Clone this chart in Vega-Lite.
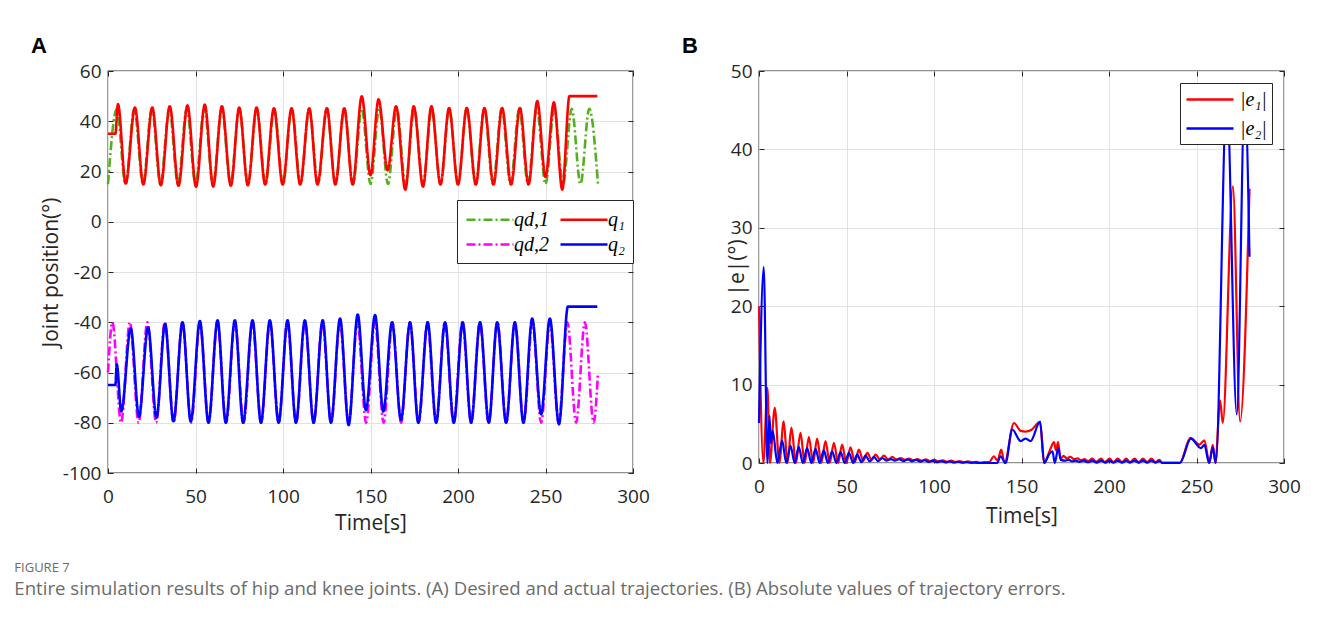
{
  "$schema": "https://vega.github.io/schema/vega-lite/v6.json",
  "background": "white",
  "padding": {"left": 14, "top": 34, "right": 10, "bottom": 20},
  "bounds": "flush",
  "spacing": 126,
  "title": {
    "text": "FIGURE 7",
    "subtitle": "Entire simulation results of hip and knee joints. (A) Desired and actual trajectories. (B) Absolute values of trajectory errors.",
    "orient": "bottom",
    "anchor": "start",
    "frame": "bounds",
    "offset": 28,
    "dx": -16,
    "font": "Open Sans",
    "fontSize": 13,
    "fontWeight": "normal",
    "color": "#6b6b6b",
    "subtitleFont": "Open Sans",
    "subtitleFontSize": 18.6,
    "subtitleColor": "#6b6b6b",
    "subtitlePadding": 5
  },
  "datasets": {
    "qd": [
      {"t":0,"v":15,"s":"qd,1"},{"t":5,"v":45,"s":"qd,1"},{"t":10,"v":15,"s":"qd,1"},{"t":15,"v":45,"s":"qd,1"},{"t":20,"v":15,"s":"qd,1"},{"t":25,"v":45,"s":"qd,1"},{"t":30,"v":15,"s":"qd,1"},{"t":35,"v":45,"s":"qd,1"},{"t":40,"v":15,"s":"qd,1"},{"t":45,"v":45,"s":"qd,1"},{"t":50,"v":15,"s":"qd,1"},{"t":55,"v":45,"s":"qd,1"},{"t":60,"v":15,"s":"qd,1"},{"t":65,"v":45,"s":"qd,1"},{"t":70,"v":15,"s":"qd,1"},{"t":75,"v":45,"s":"qd,1"},{"t":80,"v":15,"s":"qd,1"},{"t":85,"v":45,"s":"qd,1"},{"t":90,"v":15,"s":"qd,1"},{"t":95,"v":45,"s":"qd,1"},{"t":100,"v":15,"s":"qd,1"},{"t":105,"v":45,"s":"qd,1"},{"t":110,"v":15,"s":"qd,1"},{"t":115,"v":45,"s":"qd,1"},{"t":120,"v":15,"s":"qd,1"},{"t":125,"v":45,"s":"qd,1"},{"t":130,"v":15,"s":"qd,1"},{"t":135,"v":45,"s":"qd,1"},{"t":140,"v":15,"s":"qd,1"},{"t":145,"v":45,"s":"qd,1"},{"t":150,"v":15,"s":"qd,1"},{"t":155,"v":45,"s":"qd,1"},{"t":160,"v":15,"s":"qd,1"},{"t":165,"v":45,"s":"qd,1"},{"t":170,"v":15,"s":"qd,1"},{"t":175,"v":45,"s":"qd,1"},{"t":180,"v":15,"s":"qd,1"},{"t":185,"v":45,"s":"qd,1"},{"t":190,"v":15,"s":"qd,1"},{"t":195,"v":45,"s":"qd,1"},{"t":200,"v":15,"s":"qd,1"},{"t":205,"v":45,"s":"qd,1"},{"t":210,"v":15,"s":"qd,1"},{"t":215,"v":45,"s":"qd,1"},{"t":220,"v":15,"s":"qd,1"},{"t":225,"v":45,"s":"qd,1"},{"t":230,"v":15,"s":"qd,1"},{"t":235,"v":45,"s":"qd,1"},{"t":240,"v":15,"s":"qd,1"},{"t":245,"v":45,"s":"qd,1"},{"t":250,"v":15,"s":"qd,1"},{"t":255,"v":45,"s":"qd,1"},{"t":260,"v":15,"s":"qd,1"},{"t":265,"v":45,"s":"qd,1"},{"t":270,"v":15,"s":"qd,1"},{"t":275,"v":45,"s":"qd,1"},{"t":280,"v":15,"s":"qd,1"},
      {"t":0,"v":-60,"s":"qd,2"},{"t":2.5,"v":-40,"s":"qd,2"},{"t":7.5,"v":-80,"s":"qd,2"},{"t":12.5,"v":-40,"s":"qd,2"},{"t":17.5,"v":-80,"s":"qd,2"},{"t":22.5,"v":-40,"s":"qd,2"},{"t":27.5,"v":-80,"s":"qd,2"},{"t":32.5,"v":-40,"s":"qd,2"},{"t":37.5,"v":-80,"s":"qd,2"},{"t":42.5,"v":-40,"s":"qd,2"},{"t":47.5,"v":-80,"s":"qd,2"},{"t":52.5,"v":-40,"s":"qd,2"},{"t":57.5,"v":-80,"s":"qd,2"},{"t":62.5,"v":-40,"s":"qd,2"},{"t":67.5,"v":-80,"s":"qd,2"},{"t":72.5,"v":-40,"s":"qd,2"},{"t":77.5,"v":-80,"s":"qd,2"},{"t":82.5,"v":-40,"s":"qd,2"},{"t":87.5,"v":-80,"s":"qd,2"},{"t":92.5,"v":-40,"s":"qd,2"},{"t":97.5,"v":-80,"s":"qd,2"},{"t":102.5,"v":-40,"s":"qd,2"},{"t":107.5,"v":-80,"s":"qd,2"},{"t":112.5,"v":-40,"s":"qd,2"},{"t":117.5,"v":-80,"s":"qd,2"},{"t":122.5,"v":-40,"s":"qd,2"},{"t":127.5,"v":-80,"s":"qd,2"},{"t":132.5,"v":-40,"s":"qd,2"},{"t":137.5,"v":-80,"s":"qd,2"},{"t":142.5,"v":-40,"s":"qd,2"},{"t":147.5,"v":-80,"s":"qd,2"},{"t":152.5,"v":-40,"s":"qd,2"},{"t":157.5,"v":-80,"s":"qd,2"},{"t":162.5,"v":-40,"s":"qd,2"},{"t":167.5,"v":-80,"s":"qd,2"},{"t":172.5,"v":-40,"s":"qd,2"},{"t":177.5,"v":-80,"s":"qd,2"},{"t":182.5,"v":-40,"s":"qd,2"},{"t":187.5,"v":-80,"s":"qd,2"},{"t":192.5,"v":-40,"s":"qd,2"},{"t":197.5,"v":-80,"s":"qd,2"},{"t":202.5,"v":-40,"s":"qd,2"},{"t":207.5,"v":-80,"s":"qd,2"},{"t":212.5,"v":-40,"s":"qd,2"},{"t":217.5,"v":-80,"s":"qd,2"},{"t":222.5,"v":-40,"s":"qd,2"},{"t":227.5,"v":-80,"s":"qd,2"},{"t":232.5,"v":-40,"s":"qd,2"},{"t":237.5,"v":-80,"s":"qd,2"},{"t":242.5,"v":-40,"s":"qd,2"},{"t":247.5,"v":-80,"s":"qd,2"},{"t":252.5,"v":-40,"s":"qd,2"},{"t":257.5,"v":-80,"s":"qd,2"},{"t":262.5,"v":-40,"s":"qd,2"},{"t":267.5,"v":-80,"s":"qd,2"},{"t":272.5,"v":-40,"s":"qd,2"},{"t":277.5,"v":-80,"s":"qd,2"},{"t":280,"v":-60,"s":"qd,2"}
    ],
    "q": [
      {"t":0,"v":35,"s":"q₁"},{"t":4.2,"v":35,"s":"q₁"},{"t":5.7,"v":46.8,"s":"q₁"},{"t":10.1,"v":15.2,"s":"q₁"},{"t":15.4,"v":45.5,"s":"q₁"},{"t":20.2,"v":14.8,"s":"q₁"},{"t":25.3,"v":45.5,"s":"q₁"},{"t":30.2,"v":14.5,"s":"q₁"},{"t":35.3,"v":46,"s":"q₁"},{"t":40.3,"v":14.3,"s":"q₁"},{"t":45.4,"v":46.3,"s":"q₁"},{"t":50.3,"v":13.9,"s":"q₁"},{"t":55.3,"v":46.6,"s":"q₁"},{"t":60.1,"v":14,"s":"q₁"},{"t":65.1,"v":46,"s":"q₁"},{"t":70.2,"v":14.3,"s":"q₁"},{"t":75,"v":45.5,"s":"q₁"},{"t":79.9,"v":14.5,"s":"q₁"},{"t":84.9,"v":45.5,"s":"q₁"},{"t":89.8,"v":14.8,"s":"q₁"},{"t":94.8,"v":45.2,"s":"q₁"},{"t":99.8,"v":14.8,"s":"q₁"},{"t":104.9,"v":45.2,"s":"q₁"},{"t":109.8,"v":14.8,"s":"q₁"},{"t":115,"v":45.2,"s":"q₁"},{"t":119.7,"v":14.8,"s":"q₁"},{"t":125.1,"v":45.2,"s":"q₁"},{"t":129.9,"v":14.8,"s":"q₁"},{"t":135,"v":45.2,"s":"q₁"},{"t":139.8,"v":14.8,"s":"q₁"},{"t":145,"v":49.9,"s":"q₁"},{"t":150,"v":18.5,"s":"q₁"},{"t":154.6,"v":48.7,"s":"q₁"},{"t":159.8,"v":20.5,"s":"q₁"},{"t":164.6,"v":46,"s":"q₁"},{"t":169.9,"v":12.8,"s":"q₁"},{"t":174.7,"v":46,"s":"q₁"},{"t":180,"v":14,"s":"q₁"},{"t":184.8,"v":46,"s":"q₁"},{"t":190,"v":14.8,"s":"q₁"},{"t":194.9,"v":45.3,"s":"q₁"},{"t":200,"v":14.8,"s":"q₁"},{"t":205,"v":45.3,"s":"q₁"},{"t":210.2,"v":14.8,"s":"q₁"},{"t":215.1,"v":45.3,"s":"q₁"},{"t":220.3,"v":14.8,"s":"q₁"},{"t":225.2,"v":45.3,"s":"q₁"},{"t":230.4,"v":14.8,"s":"q₁"},{"t":235.4,"v":45.3,"s":"q₁"},{"t":240.3,"v":14.8,"s":"q₁"},{"t":245.3,"v":48,"s":"q₁"},{"t":250,"v":17.9,"s":"q₁"},{"t":254.8,"v":47.5,"s":"q₁"},{"t":259.6,"v":12.8,"s":"q₁"},{"t":263.7,"v":50,"s":"q₁"},{"t":279.6,"v":50,"s":"q₁"},
      {"t":0,"v":-65,"s":"q₂"},{"t":4.2,"v":-65,"s":"q₂"},{"t":5,"v":-56.7,"s":"q₂"},{"t":7.6,"v":-75.5,"s":"q₂"},{"t":13,"v":-42.4,"s":"q₂"},{"t":17.7,"v":-77.5,"s":"q₂"},{"t":22.9,"v":-42,"s":"q₂"},{"t":27.7,"v":-78,"s":"q₂"},{"t":32.6,"v":-40.6,"s":"q₂"},{"t":37.4,"v":-79.4,"s":"q₂"},{"t":42.6,"v":-40,"s":"q₂"},{"t":47.3,"v":-79.5,"s":"q₂"},{"t":52.5,"v":-39.5,"s":"q₂"},{"t":57.4,"v":-80,"s":"q₂"},{"t":62.6,"v":-39.2,"s":"q₂"},{"t":67.3,"v":-80,"s":"q₂"},{"t":72.5,"v":-39.2,"s":"q₂"},{"t":77.2,"v":-80,"s":"q₂"},{"t":82.6,"v":-39.2,"s":"q₂"},{"t":87.4,"v":-80,"s":"q₂"},{"t":92.5,"v":-39.2,"s":"q₂"},{"t":97.5,"v":-80,"s":"q₂"},{"t":102.6,"v":-39.2,"s":"q₂"},{"t":107.4,"v":-80,"s":"q₂"},{"t":112.5,"v":-39.2,"s":"q₂"},{"t":117.5,"v":-80,"s":"q₂"},{"t":122.7,"v":-39.2,"s":"q₂"},{"t":127.4,"v":-80,"s":"q₂"},{"t":132.6,"v":-38.5,"s":"q₂"},{"t":137.5,"v":-80.9,"s":"q₂"},{"t":142.7,"v":-36.9,"s":"q₂"},{"t":147.4,"v":-74.9,"s":"q₂"},{"t":152.6,"v":-37.1,"s":"q₂"},{"t":157.3,"v":-75.5,"s":"q₂"},{"t":162.3,"v":-40,"s":"q₂"},{"t":167.4,"v":-78.9,"s":"q₂"},{"t":172.6,"v":-40,"s":"q₂"},{"t":177.3,"v":-80,"s":"q₂"},{"t":182.7,"v":-40,"s":"q₂"},{"t":187.5,"v":-80,"s":"q₂"},{"t":192.6,"v":-40,"s":"q₂"},{"t":197.6,"v":-80,"s":"q₂"},{"t":202.7,"v":-40,"s":"q₂"},{"t":207.5,"v":-80,"s":"q₂"},{"t":212.6,"v":-40,"s":"q₂"},{"t":217.6,"v":-80,"s":"q₂"},{"t":222.4,"v":-40,"s":"q₂"},{"t":227.5,"v":-80,"s":"q₂"},{"t":232.5,"v":-40,"s":"q₂"},{"t":237.4,"v":-80,"s":"q₂"},{"t":242.4,"v":-38.5,"s":"q₂"},{"t":247.5,"v":-76.6,"s":"q₂"},{"t":252.5,"v":-38.5,"s":"q₂"},{"t":257.7,"v":-80.6,"s":"q₂"},{"t":262.8,"v":-33.8,"s":"q₂"},{"t":279.6,"v":-33.8,"s":"q₂"}
    ],
    "e1": [
      {"t":0,"v":20,"s":"|e₁|"},{"t":2.5,"v":0,"s":"|e₁|"},{"t":4.8,"v":9.6,"s":"|e₁|"},{"t":6.2,"v":0,"s":"|e₁|"},{"t":9,"v":7.05,"s":"|e₁|"},{"t":11.6,"v":0,"s":"|e₁|"},{"t":14.1,"v":5.3,"s":"|e₁|"},{"t":16.3,"v":0,"s":"|e₁|"},{"t":18.5,"v":4.5,"s":"|e₁|"},{"t":21.1,"v":0,"s":"|e₁|"},{"t":23.7,"v":3.85,"s":"|e₁|"},{"t":26.1,"v":0,"s":"|e₁|"},{"t":28.5,"v":3.3,"s":"|e₁|"},{"t":30.9,"v":0,"s":"|e₁|"},{"t":33.2,"v":3.1,"s":"|e₁|"},{"t":35.6,"v":0,"s":"|e₁|"},{"t":38,"v":2.8,"s":"|e₁|"},{"t":40.4,"v":0,"s":"|e₁|"},{"t":42.8,"v":2.56,"s":"|e₁|"},{"t":45.2,"v":0,"s":"|e₁|"},{"t":47.5,"v":2.35,"s":"|e₁|"},{"t":49.9,"v":0,"s":"|e₁|"},{"t":52.3,"v":2.0,"s":"|e₁|"},{"t":54.7,"v":0.1,"s":"|e₁|"},{"t":57.1,"v":1.7,"s":"|e₁|"},{"t":59.5,"v":0.3,"s":"|e₁|"},{"t":61.9,"v":1.28,"s":"|e₁|"},{"t":64.3,"v":0.4,"s":"|e₁|"},{"t":66.7,"v":1.06,"s":"|e₁|"},{"t":69,"v":0.45,"s":"|e₁|"},{"t":71.4,"v":0.94,"s":"|e₁|"},{"t":73.8,"v":0.45,"s":"|e₁|"},{"t":76.2,"v":0.77,"s":"|e₁|"},{"t":78.6,"v":0.45,"s":"|e₁|"},{"t":81,"v":0.64,"s":"|e₁|"},{"t":83.4,"v":0.4,"s":"|e₁|"},{"t":85.8,"v":0.55,"s":"|e₁|"},{"t":88.2,"v":0.35,"s":"|e₁|"},{"t":90.6,"v":0.5,"s":"|e₁|"},{"t":93,"v":0.3,"s":"|e₁|"},{"t":95.4,"v":0.45,"s":"|e₁|"},{"t":97.8,"v":0.25,"s":"|e₁|"},{"t":100.2,"v":0.4,"s":"|e₁|"},{"t":102.6,"v":0.2,"s":"|e₁|"},{"t":105,"v":0.35,"s":"|e₁|"},{"t":107.4,"v":0.15,"s":"|e₁|"},{"t":109.8,"v":0.3,"s":"|e₁|"},{"t":112.2,"v":0.12,"s":"|e₁|"},{"t":114.6,"v":0.25,"s":"|e₁|"},{"t":117,"v":0.1,"s":"|e₁|"},{"t":119.4,"v":0.2,"s":"|e₁|"},{"t":121.8,"v":0.08,"s":"|e₁|"},{"t":124.2,"v":0.15,"s":"|e₁|"},{"t":126.6,"v":0.05,"s":"|e₁|"},{"t":129,"v":0.1,"s":"|e₁|"},{"t":131.5,"v":0.1,"s":"|e₁|"},{"t":134.2,"v":0.86,"s":"|e₁|"},{"t":136.3,"v":0.3,"s":"|e₁|"},{"t":138.4,"v":1.7,"s":"|e₁|"},{"t":140.3,"v":0,"s":"|e₁|"},{"t":145.7,"v":5.1,"s":"|e₁|"},{"t":149.5,"v":4.1,"s":"|e₁|"},{"t":152.5,"v":4.0,"s":"|e₁|"},{"t":155.5,"v":4.2,"s":"|e₁|"},{"t":160.6,"v":5.26,"s":"|e₁|"},{"t":162.9,"v":0,"s":"|e₁|"},{"t":166,"v":1.5,"s":"|e₁|"},{"t":168.6,"v":2.65,"s":"|e₁|"},{"t":169.7,"v":1.6,"s":"|e₁|"},{"t":170.9,"v":2.65,"s":"|e₁|"},{"t":172.3,"v":0.5,"s":"|e₁|"},{"t":174,"v":0.9,"s":"|e₁|"},{"t":176,"v":0.6,"s":"|e₁|"},{"t":178,"v":0.8,"s":"|e₁|"},{"t":180,"v":0.5,"s":"|e₁|"},{"t":182,"v":0.6,"s":"|e₁|"},{"t":184,"v":0.35,"s":"|e₁|"},{"t":186,"v":0.5,"s":"|e₁|"},{"t":188,"v":0.25,"s":"|e₁|"},{"t":190.5,"v":0.55,"s":"|e₁|"},{"t":192.5,"v":0.15,"s":"|e₁|"},{"t":195.5,"v":0.55,"s":"|e₁|"},{"t":197.5,"v":0.1,"s":"|e₁|"},{"t":200.3,"v":0.55,"s":"|e₁|"},{"t":202.5,"v":0.1,"s":"|e₁|"},{"t":205,"v":0.55,"s":"|e₁|"},{"t":207.5,"v":0.1,"s":"|e₁|"},{"t":209.8,"v":0.55,"s":"|e₁|"},{"t":212,"v":0.1,"s":"|e₁|"},{"t":214.6,"v":0.55,"s":"|e₁|"},{"t":217,"v":0.1,"s":"|e₁|"},{"t":219.4,"v":0.55,"s":"|e₁|"},{"t":221.8,"v":0.1,"s":"|e₁|"},{"t":224.2,"v":0.55,"s":"|e₁|"},{"t":226.6,"v":0.1,"s":"|e₁|"},{"t":228.7,"v":0.4,"s":"|e₁|"},{"t":230.5,"v":0.05,"s":"|e₁|"},{"t":240.5,"v":0.05,"s":"|e₁|"},{"t":246.5,"v":3.2,"s":"|e₁|"},{"t":251.7,"v":2.35,"s":"|e₁|"},{"t":254.5,"v":2.9,"s":"|e₁|"},{"t":257.4,"v":0,"s":"|e₁|"},{"t":259.3,"v":2.3,"s":"|e₁|"},{"t":260.8,"v":0,"s":"|e₁|"},{"t":263.5,"v":8,"s":"|e₁|"},{"t":265,"v":5.1,"s":"|e₁|"},{"t":270.8,"v":35.3,"s":"|e₁|"},{"t":274.9,"v":5.3,"s":"|e₁|"},{"t":280.3,"v":35,"s":"|e₁|"}
    ],
    "e2": [
      {"t":0,"v":5.1,"s":"|e₂|"},{"t":2.7,"v":25,"s":"|e₂|"},{"t":4.8,"v":0,"s":"|e₂|"},{"t":6,"v":6,"s":"|e₂|"},{"t":6.8,"v":2.5,"s":"|e₂|"},{"t":7.8,"v":4.1,"s":"|e₂|"},{"t":10.5,"v":0,"s":"|e₂|"},{"t":13.2,"v":2.86,"s":"|e₂|"},{"t":15.6,"v":0,"s":"|e₂|"},{"t":18,"v":2.2,"s":"|e₂|"},{"t":20.4,"v":0,"s":"|e₂|"},{"t":22.7,"v":2.05,"s":"|e₂|"},{"t":25.1,"v":0,"s":"|e₂|"},{"t":27.5,"v":1.9,"s":"|e₂|"},{"t":29.9,"v":0,"s":"|e₂|"},{"t":32.3,"v":1.8,"s":"|e₂|"},{"t":34.7,"v":0,"s":"|e₂|"},{"t":37,"v":1.6,"s":"|e₂|"},{"t":39.4,"v":0,"s":"|e₂|"},{"t":41.8,"v":1.5,"s":"|e₂|"},{"t":44.2,"v":0,"s":"|e₂|"},{"t":46.6,"v":1.4,"s":"|e₂|"},{"t":49,"v":0,"s":"|e₂|"},{"t":51.4,"v":1.28,"s":"|e₂|"},{"t":53.8,"v":0,"s":"|e₂|"},{"t":56.1,"v":1.06,"s":"|e₂|"},{"t":58.5,"v":0.1,"s":"|e₂|"},{"t":60.9,"v":0.94,"s":"|e₂|"},{"t":63.3,"v":0.2,"s":"|e₂|"},{"t":65.7,"v":0.77,"s":"|e₂|"},{"t":68,"v":0.25,"s":"|e₂|"},{"t":70.4,"v":0.64,"s":"|e₂|"},{"t":72.8,"v":0.3,"s":"|e₂|"},{"t":75.3,"v":0.5,"s":"|e₂|"},{"t":77.6,"v":0.3,"s":"|e₂|"},{"t":80,"v":0.5,"s":"|e₂|"},{"t":82.5,"v":0.25,"s":"|e₂|"},{"t":85,"v":0.45,"s":"|e₂|"},{"t":87.4,"v":0.22,"s":"|e₂|"},{"t":89.8,"v":0.4,"s":"|e₂|"},{"t":92.2,"v":0.18,"s":"|e₂|"},{"t":94.6,"v":0.35,"s":"|e₂|"},{"t":97,"v":0.14,"s":"|e₂|"},{"t":99.4,"v":0.3,"s":"|e₂|"},{"t":101.8,"v":0.1,"s":"|e₂|"},{"t":104.2,"v":0.25,"s":"|e₂|"},{"t":106.6,"v":0.07,"s":"|e₂|"},{"t":109,"v":0.2,"s":"|e₂|"},{"t":111.4,"v":0.05,"s":"|e₂|"},{"t":113.8,"v":0.15,"s":"|e₂|"},{"t":116.2,"v":0.03,"s":"|e₂|"},{"t":118.6,"v":0.1,"s":"|e₂|"},{"t":121,"v":0.02,"s":"|e₂|"},{"t":123.4,"v":0.05,"s":"|e₂|"},{"t":126,"v":0,"s":"|e₂|"},{"t":136.1,"v":0,"s":"|e₂|"},{"t":138,"v":0.86,"s":"|e₂|"},{"t":140.9,"v":0,"s":"|e₂|"},{"t":144.7,"v":4.27,"s":"|e₂|"},{"t":149.5,"v":2.8,"s":"|e₂|"},{"t":152.3,"v":3.1,"s":"|e₂|"},{"t":155.2,"v":2.8,"s":"|e₂|"},{"t":160.6,"v":5.26,"s":"|e₂|"},{"t":163,"v":0,"s":"|e₂|"},{"t":166,"v":1.2,"s":"|e₂|"},{"t":167.7,"v":1.5,"s":"|e₂|"},{"t":169,"v":0,"s":"|e₂|"},{"t":171,"v":1.9,"s":"|e₂|"},{"t":172.5,"v":0.4,"s":"|e₂|"},{"t":175,"v":0.3,"s":"|e₂|"},{"t":177,"v":0.4,"s":"|e₂|"},{"t":179,"v":0.2,"s":"|e₂|"},{"t":181,"v":0.3,"s":"|e₂|"},{"t":183,"v":0.15,"s":"|e₂|"},{"t":185.5,"v":0.3,"s":"|e₂|"},{"t":188,"v":0.1,"s":"|e₂|"},{"t":190.5,"v":0.3,"s":"|e₂|"},{"t":193,"v":0.05,"s":"|e₂|"},{"t":195.5,"v":0.3,"s":"|e₂|"},{"t":198,"v":0.05,"s":"|e₂|"},{"t":200.3,"v":0.3,"s":"|e₂|"},{"t":202.5,"v":0.05,"s":"|e₂|"},{"t":205,"v":0.3,"s":"|e₂|"},{"t":207.5,"v":0.05,"s":"|e₂|"},{"t":209.8,"v":0.3,"s":"|e₂|"},{"t":212,"v":0.05,"s":"|e₂|"},{"t":214.6,"v":0.3,"s":"|e₂|"},{"t":217,"v":0.05,"s":"|e₂|"},{"t":219.4,"v":0.3,"s":"|e₂|"},{"t":221.8,"v":0.05,"s":"|e₂|"},{"t":224.2,"v":0.3,"s":"|e₂|"},{"t":226.6,"v":0.05,"s":"|e₂|"},{"t":228.7,"v":0.25,"s":"|e₂|"},{"t":230.5,"v":0,"s":"|e₂|"},{"t":240.5,"v":0,"s":"|e₂|"},{"t":246.8,"v":3.1,"s":"|e₂|"},{"t":252.5,"v":1.9,"s":"|e₂|"},{"t":254.5,"v":2.3,"s":"|e₂|"},{"t":257.2,"v":0,"s":"|e₂|"},{"t":259.3,"v":2.0,"s":"|e₂|"},{"t":261,"v":0,"s":"|e₂|"},{"t":267.3,"v":47,"s":"|e₂|"},{"t":273,"v":6.2,"s":"|e₂|"},{"t":277.6,"v":47,"s":"|e₂|"},{"t":280.3,"v":26.3,"s":"|e₂|"}
    ]
  },
  "hconcat": [
    {
      "width": 525,
      "height": 402,
      "title": {"text": "A", "anchor": "start", "frame": "group", "dx": -77, "offset": 4, "fontSize": 22, "fontWeight": "bold", "font": "Liberation Sans", "color": "black"},
      "layer": [
        {
          "data": {"name": "qd"},
          "mark": {"type": "line", "interpolate": "monotone", "strokeWidth": 2.6},
          "encoding": {
            "x": {"field": "t", "type": "quantitative", "scale": {"domain": [0, 300], "nice": false}, "axis": {"title": "Time[s]", "values": [0, 50, 100, 150, 200, 250, 300]}},
            "y": {"field": "v", "type": "quantitative", "scale": {"domain": [-100, 60], "nice": false, "zero": false}, "axis": {"title": "Joint position(°)", "titlePadding": 1, "values": [-100, -80, -60, -40, -20, 0, 20, 40, 60]}},
            "color": {"field": "s", "type": "nominal", "scale": {"domain": ["qd,1", "qd,2", "q₁", "q₂"], "range": ["#55b020", "#ff00ff", "#ff0000", "#0000ff"]}, "legend": {"title": null, "orient": "none", "legendX": 349, "legendY": 129, "columns": 2, "rowPadding": 3, "padding": 8, "columnPadding": 6, "labelOffset": 26}},
            "strokeDash": {"field": "s", "type": "nominal", "scale": {"domain": ["qd,1", "qd,2", "q₁", "q₂"], "range": [[9, 3, 2, 3], [9, 3, 2, 3], [1, 0], [1, 0]]}, "legend": {"title": null, "orient": "none", "legendX": 349, "legendY": 129, "columns": 2, "rowPadding": 3, "padding": 8, "columnPadding": 6, "labelOffset": 26}}
          }
        },
        {
          "data": {"name": "q"},
          "mark": {"type": "line", "interpolate": "monotone", "strokeWidth": 2.6},
          "encoding": {
            "x": {"field": "t", "type": "quantitative", "axis": {"orient": "top", "title": null, "labels": false, "grid": false, "values": [0, 50, 100, 150, 200, 250, 300]}},
            "y": {"field": "v", "type": "quantitative", "axis": {"orient": "right", "title": null, "labels": false, "grid": false, "values": [-100, -80, -60, -40, -20, 0, 20, 40, 60]}},
            "color": {"field": "s", "type": "nominal"},
            "strokeDash": {"field": "s", "type": "nominal"}
          }
        }
      ],
      "resolve": {"axis": {"x": "independent", "y": "independent"}}
    },
    {
      "width": 525,
      "height": 392,
      "title": {"text": "B", "anchor": "start", "frame": "group", "dx": -77, "offset": 4, "fontSize": 22, "fontWeight": "bold", "font": "Liberation Sans", "color": "black"},
      "layer": [
        {
          "data": {"name": "e1"},
          "mark": {"type": "line", "interpolate": "monotone", "strokeWidth": 2.2},
          "encoding": {
            "x": {"field": "t", "type": "quantitative", "scale": {"domain": [0, 300], "nice": false}, "axis": {"title": "Time[s]", "titlePadding": 9, "values": [0, 50, 100, 150, 200, 250, 300]}},
            "y": {"field": "v", "type": "quantitative", "scale": {"domain": [0, 50], "nice": false}, "axis": {"title": "|e|(°)", "titlePadding": -17, "values": [0, 10, 20, 30, 40, 50]}},
            "color": {"field": "s", "type": "nominal", "scale": {"domain": ["|e₁|", "|e₂|"], "range": ["#ff0000", "#0000ff"]}, "legend": {"title": null, "orient": "none", "legendX": 421, "legendY": 12, "columns": 1, "rowPadding": 7, "padding": 5, "labelOffset": 32}}
          }
        },
        {
          "data": {"name": "e2"},
          "mark": {"type": "line", "interpolate": "monotone", "strokeWidth": 2.2},
          "encoding": {
            "x": {"field": "t", "type": "quantitative", "axis": {"orient": "top", "title": null, "labels": false, "grid": false, "values": [0, 50, 100, 150, 200, 250, 300]}},
            "y": {"field": "v", "type": "quantitative", "axis": {"orient": "right", "title": null, "labels": false, "grid": false, "values": [0, 10, 20, 30, 40, 50]}},
            "color": {"field": "s", "type": "nominal"}
          }
        }
      ],
      "resolve": {"axis": {"x": "independent", "y": "independent"}}
    }
  ],
  "resolve": {"scale": {"color": "independent", "strokeDash": "independent"}, "legend": {"color": "independent", "strokeDash": "independent"}},
  "config": {
    "view": {"stroke": "#262626", "strokeWidth": 1.3},
    "axis": {
      "domain": false,
      "grid": true,
      "gridColor": "#e2e2e2",
      "gridWidth": 1,
      "tickColor": "#262626",
      "tickSize": -5,
      "tickWidth": 1,
      "labelFont": "Open Sans",
      "labelFontSize": 19,
      "labelColor": "#262626",
      "labelFlush": false,
      "labelExpr": "'' + datum.value",
      "titleFont": "Open Sans",
      "titleFontSize": 21,
      "titleFontWeight": "normal",
      "titleColor": "#262626"
    },
    "axisX": {"labelPadding": 19, "titlePadding": 6},
    "axisY": {"labelPadding": 12, "titlePadding": 4},
    "legend": {
      "strokeColor": "#262626",
      "fillColor": "white",
      "symbolType": "M-1,0H3.7",
      "symbolSize": 400,
      "symbolStrokeWidth": 2.6,
      "labelFont": "Liberation Serif",
      "labelFontStyle": "italic",
      "labelFontSize": 20,
      "labelColor": "black",
      "cornerRadius": 0
    }
  }
}
